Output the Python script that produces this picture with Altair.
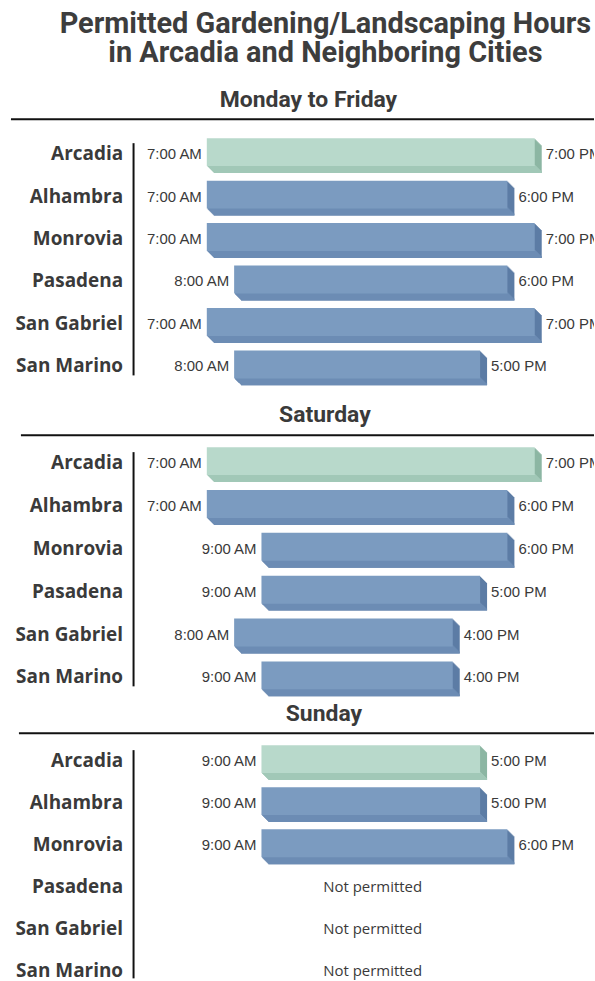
import altair as alt
import pandas as pd

# ---------------- data ----------------
cities = ["Arcadia", "Alhambra", "Monrovia", "Pasadena", "San Gabriel", "San Marino"]
sections = ["Monday to Friday", "Saturday", "Sunday"]
weekday_start = [7, 7, 7, 8, 7, 8]
weekday_end = [19, 18, 19, 18, 19, 17]
saturday_start = [7, 7, 9, 9, 8, 9]
saturday_end = [19, 18, 18, 17, 16, 16]
sunday_start = [9, 9, 9, None, None, None]
sunday_end = [17, 17, 18, None, None, None]
highlight_city = "Arcadia"
not_permitted_text = "Not permitted"


def fmt(h):
    if h is None:
        return None
    suffix = "AM" if h < 12 else "PM"
    hh = h % 12
    if hh == 0:
        hh = 12
    return f"{hh}:00 {suffix}"


def make_df(starts, ends):
    return pd.DataFrame({
        "city": cities,
        "start": starts,
        "end": ends,
        "start_label": [fmt(s) for s in starts],
        "end_label": [fmt(e) for e in ends],
        "group": ["Arcadia" if c == highlight_city else "Other" for c in cities],
        "note": [not_permitted_text if s is None else "" for s in starts],
    })


# ---------------- style ----------------
FACE = ("#b8d9cb", "#7b9bc0")
BEVEL = ("#a1c8b7", "#6c8cb4")
SIDE = ("#8cb6a3", "#5c7ca5")
TEXT = "#3a3a3a"
TITLE_FONT = "Roboto"
LABEL_FONT = "Open Sans"
TIME_FONT = "Liberation Sans"
PANEL_W = 462
X_DOMAIN = [4.3195, 21.168]
DEPTH = 7
FACE_H = 28
FACE_SHIFT = -2
NOTE_POS = 13.07


def col(pair):
    return alt.condition(alt.datum.group == "Arcadia", alt.value(pair[0]), alt.value(pair[1]))


def panel(title, starts, ends, title_dx, title_offset, rule_left, height, centers, line_end=9):
    df = make_df(starts, ends)
    a, b = centers
    step = (b - a) / 5.0
    yscale = alt.Scale(type="band", range=[a - step / 2, b + step / 2],
                       paddingInner=0, paddingOuter=0)
    y = alt.Y("city:N", sort=cities, scale=yscale, title=None,
              axis=alt.Axis(domain=False, ticks=False, grid=False, labelPadding=11,
                            labelFont=LABEL_FONT, labelFontSize=19, labelFontWeight="bold",
                            labelColor=TEXT))
    xs = alt.Scale(domain=X_DOMAIN, nice=False, zero=False)
    base = alt.Chart(df)
    bars = base.transform_filter("isValid(datum.start)")
    layers = []
    # extruded sides (sweep of the front face)
    for i in range(1, DEPTH + 1):
        layers.append(bars.mark_bar(height=FACE_H, xOffset=i, x2Offset=i, yOffset=FACE_SHIFT + i).encode(
            x=alt.X("start:Q", scale=xs, axis=None), x2="end:Q", y=y, color=col(SIDE)))
    # bottom bevel (sweep of the bottom edge)
    for i in range(1, DEPTH + 1):
        layers.append(bars.mark_bar(height=2, xOffset=i, x2Offset=i,
                                    yOffset=FACE_SHIFT + FACE_H / 2 - 1 + i).encode(
            x=alt.X("start:Q", scale=xs, axis=None), x2="end:Q", y=y, color=col(BEVEL)))
    # front face
    layers.append(bars.mark_bar(height=FACE_H, yOffset=FACE_SHIFT).encode(
        x=alt.X("start:Q", scale=xs, axis=None), x2="end:Q", y=y, color=col(FACE)))
    # time labels
    layers.append(bars.mark_text(align="right", baseline="middle", dx=-5, font=TIME_FONT,
                                 fontSize=15, color=TEXT).encode(
        x=alt.X("start:Q", scale=xs, axis=None), y=y, text="start_label:N"))
    layers.append(bars.mark_text(align="left", baseline="middle", dx=11, font=TIME_FONT,
                                 fontSize=15, color=TEXT, clip=True).encode(
        x=alt.X("end:Q", scale=xs, axis=None), y=y, text="end_label:N"))
    # not permitted
    layers.append(base.transform_filter("!isValid(datum.start)").mark_text(
        align="center", baseline="middle", font=LABEL_FONT, fontSize=15, color=TEXT).encode(
        x=alt.XDatum(NOTE_POS, scale=xs, axis=None), y=y, text="note:N"))
    # vertical axis line
    layers.append(base.transform_filter(alt.datum.city == "Arcadia").mark_rule(
        color="#111111", strokeWidth=2, yOffset=-11, y2Offset=line_end).encode(
        x=alt.value(0), y=alt.datum("Arcadia"), y2=alt.datum("San Marino")))
    # section rule
    layers.append(base.transform_filter(alt.datum.city == "Arcadia").mark_rule(
        color="#111111", strokeWidth=2).encode(
        x=alt.value(rule_left - 133), x2=alt.value(PANEL_W), y=alt.value(0)))
    return alt.layer(*layers).properties(
        width=PANEL_W, height=height,
        view=alt.ViewBackground(stroke="transparent", strokeWidth=0, fill="transparent"),
        title=alt.TitleParams(title, font=TITLE_FONT, fontSize=23, fontWeight="bold",
                              color=TEXT, anchor="middle", frame="bounds", dx=title_dx,
                              offset=title_offset),
    )


p1 = panel(sections[0], weekday_start, weekday_end, 6, 6, 10, 317, (35, 248))
p2 = panel(sections[1], saturday_start, saturday_end, 20, 7, 20, 299, (28, 243))
p3 = panel(sections[2], sunday_start, sunday_end, 19, 6, 18, 247, (28, 239), line_end=7)

chart = alt.vconcat(p1, p2, p3, spacing=0, bounds="flush").properties(
    title=alt.TitleParams(["Permitted Gardening/Landscaping Hours", "in Arcadia and Neighboring Cities"],
                          font=TITLE_FONT, fontSize=29, fontWeight="bold", color="#3d3d3d",
                          lineHeight=30, anchor="middle", frame="bounds", dx=23, offset=21),
    padding={"left": 10, "right": 0, "top": 8, "bottom": 0},
).configure_view(stroke="transparent", strokeWidth=0).configure(background="white")

chart.save("out.html", embed_options={"renderer": "svg", "actions": False})
